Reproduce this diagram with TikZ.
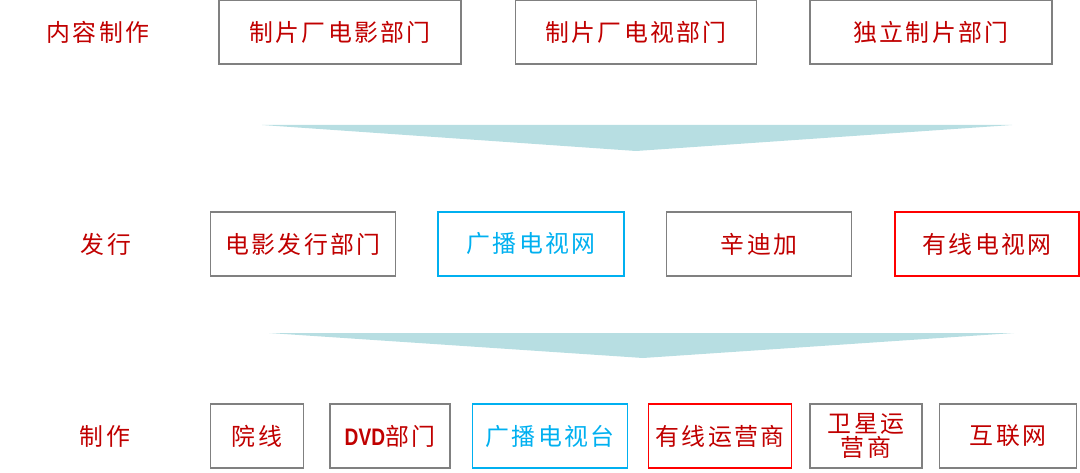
\documentclass[tikz,border=0pt]{standalone}
\usepackage{fontspec}
\setmainfont{Noto Sans CJK SC}[LetterSpace=10]
\newfontfamily\dvdfont{Liberation Sans}[FakeStretch=0.8]
\definecolor{tred}{RGB}{192,0,0}
\definecolor{tblue}{RGB}{0,176,240}
\definecolor{bred}{RGB}{255,0,0}
\definecolor{bgray}{RGB}{128,128,128}
\definecolor{funnelc}{RGB}{183,222,226}
\begin{document}
\begin{tikzpicture}[x=0.025cm,y=-0.025cm,
  every node/.style={font=\fontsize{17pt}{19pt}\selectfont, inner sep=0pt},
  w/.style={minimum width=#1*0.025cm}]
   \tikzstyle{box}=[draw=bgray, line width=1.4pt, text=tred, minimum height=1.6cm]
   \tikzstyle{bluebox}=[box, draw=tblue, text=tblue]
   \tikzstyle{redbox}=[box, draw=bred]
   \tikzstyle{lbl}=[text=tred]
   \useasboundingbox (0,0) rectangle (1080,473);
   % row labels
   \node[lbl] (make) at (98,32) {内容制作};
   \node[lbl] (dist) at (106,244) {发行};
   \node[lbl] (prod) at (105,436) {制作};
   % content makers
   \node[box,w=242] (film) at (340,32) {制片厂电影部门};
   \node[box,w=241] (tv) at (636,32) {制片厂电视部门};
   \node[box,w=242] (indie) at (931,32) {独立制片部门};
   \fill[funnelc] (262,125) -- (1012,125) -- (636,151) -- cycle;
   % distribution
   \node[box,w=185] (filmdist) at (303,244) {电影发行部门};
   \node[bluebox,w=186] (bcnet) at (531,244) {广播电视网};
   \node[box,w=185] (synd) at (759,244) {辛迪加};
   \node[redbox,w=184] (cable) at (987,244) {有线电视网};
   \fill[funnelc] (269,333) -- (1014,333) -- (643,358) -- cycle;
   % outlets
   \node[box,w=93] (cinema) at (257,436) {院线};
   \node[box,w=120] (dvd) at (390,436) {{\dvdfont\bfseries DVD}部门};
   \node[bluebox,w=155] (station) at (550,436) {广播电视台};
   \node[redbox,w=143] (cableop) at (720,436) {有线运营商};
   \node[box,w=112,align=center,font=\fontsize{17pt}{17.5pt}\selectfont] (sat) at (866,436) {卫星运\\营商};
   \node[box,w=137] (web) at (1008,436) {互联网};
 \end{tikzpicture}
\end{document}
